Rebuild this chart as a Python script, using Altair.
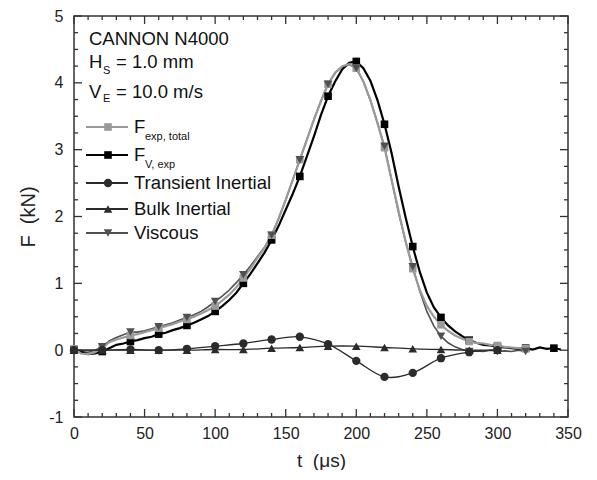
import altair as alt
import pandas as pd

# ---------------- data ----------------
t_fv = list(range(0, 350, 5))  # 0 .. 345 us
f_v_exp = [0.00, -0.03, -0.06, -0.05, -0.02, 0.03, 0.08, 0.10, 0.13, 0.15,
           0.18, 0.20, 0.24, 0.26, 0.30, 0.33, 0.37, 0.41, 0.46, 0.51,
           0.58, 0.66, 0.75, 0.86, 1.00, 1.14, 1.30, 1.46, 1.65, 1.86,
           2.10, 2.34, 2.60, 2.90, 3.20, 3.52, 3.80, 4.02, 4.20, 4.30,
           4.32, 4.22, 4.03, 3.74, 3.38, 2.95, 2.45, 1.98, 1.55, 1.17,
           0.86, 0.64, 0.49, 0.37, 0.28, 0.21, 0.15, 0.11, 0.08, 0.07,
           0.05, 0.04, 0.03, 0.02, 0.03, 0.01, 0.04, 0.02, 0.03, 0.01]

t_exp = list(range(0, 325, 5))  # 0 .. 320 us
f_exp_total = [0.02, -0.05, -0.06, -0.03, 0.04, 0.12, 0.16, 0.19, 0.22, 0.24,
               0.27, 0.30, 0.33, 0.36, 0.39, 0.43, 0.46, 0.50, 0.55, 0.60,
               0.66, 0.74, 0.83, 0.94, 1.08, 1.22, 1.38, 1.53, 1.72, 1.97,
               2.25, 2.55, 2.85, 3.15, 3.45, 3.73, 3.98, 4.15, 4.25, 4.28,
               4.22, 4.02, 3.74, 3.40, 3.03, 2.55, 2.08, 1.62, 1.22, 0.90,
               0.66, 0.50, 0.38, 0.29, 0.22, 0.17, 0.13, 0.11, 0.10, 0.08,
               0.07, 0.05, 0.04, 0.03, 0.02]

t_visc = list(range(0, 325, 5))  # 0 .. 320 us
viscous = [0.00, -0.02, -0.03, 0.00, 0.05, 0.14, 0.19, 0.23, 0.27, 0.27,
           0.29, 0.32, 0.35, 0.38, 0.41, 0.45, 0.49, 0.53, 0.58, 0.65,
           0.73, 0.81, 0.90, 1.01, 1.13, 1.26, 1.40, 1.54, 1.72, 1.97,
           2.25, 2.55, 2.85, 3.15, 3.45, 3.73, 3.98, 4.15, 4.24, 4.27,
           4.22, 4.02, 3.74, 3.40, 3.05, 2.55, 2.05, 1.62, 1.25, 0.88,
           0.58, 0.36, 0.21, 0.11, 0.05, 0.01, -0.02, -0.01, -0.02, 0.00,
           -0.02, -0.01, -0.02, 0.00, -0.02]

t_inert = list(range(0, 320, 20))  # 0 .. 300 us
transient = [0.0, 0.0, 0.01, 0.0, 0.02, 0.06, 0.10, 0.16, 0.20, 0.09,
             -0.16, -0.40, -0.34, -0.12, -0.03, 0.0]
bulk = [0.0, 0.0, 0.0, 0.0, 0.0, 0.01, 0.01, 0.03, 0.04, 0.06,
        0.06, 0.04, 0.02, 0.01, 0.0, 0.0]

x_major = [0, 50, 100, 150, 200, 250, 300, 350]
x_minor = [v for v in range(0, 351, 10) if v % 50 != 0]
y_major = [-1, 0, 1, 2, 3, 4, 5]
y_minor = [v / 4 for v in range(-4, 21) if v % 4 != 0]

header = "CANNON N4000"
legend_rows = [
    ("F", "exp, total", "#9a9a9a", "square"),
    ("F", "V, exp", "#000000", "square"),
    ("Transient Inertial", "", "#2b2b2b", "circle"),
    ("Bulk Inertial", "", "#2b2b2b", "triangle-up"),
    ("Viscous", "", "#505050", "triangle-down"),
]

# ---------------- layout / style ----------------
W, H = 494, 401
FONT = "Liberation Sans"
C_GRAY, C_BLACK, C_TRANS, C_BULK, C_VISC = "#9a9a9a", "#000000", "#2b2b2b", "#2b2b2b", "#505050"

xs = alt.Scale(domain=[0, 350], nice=False, zero=False)
ys = alt.Scale(domain=[-1, 5], nice=False, zero=False)
x_enc = alt.X("t:Q", scale=xs,
              axis=alt.Axis(values=x_major, ticks=False, domain=False, grid=False,
                            labelFontSize=16, labelPadding=8, labelFlush=False,
                            title="t\u00a0\u00a0(\u03bcs)", titleFontSize=19,
                            titleFontWeight="normal", titlePadding=10))
y_enc = alt.Y("F:Q", scale=ys,
              axis=alt.Axis(values=y_major, ticks=False, domain=False, grid=False,
                            labelFontSize=16, labelPadding=11, labelFlush=False,
                            labelExpr="'' + datum.value",
                            title="F\u00a0\u00a0(kN)", titleFontSize=20,
                            titleFontWeight="normal", titlePadding=10))

df_fv = pd.DataFrame({"t": t_fv, "F": f_v_exp})
df_exp = pd.DataFrame({"t": t_exp, "F": f_exp_total})
df_visc = pd.DataFrame({"t": t_visc, "F": viscous})
df_tr = pd.DataFrame({"t": t_inert, "F": transient})
df_bk = pd.DataFrame({"t": t_inert, "F": bulk})


def every20(df):
    return df[df["t"] % 20 == 0]


layers = []

# viscous
layers.append(alt.Chart(df_visc).mark_line(color=C_VISC, strokeWidth=1.6).encode(x=x_enc, y=y_enc))
# F_V,exp (black)
layers.append(alt.Chart(df_fv).mark_line(color=C_BLACK, strokeWidth=2.2).encode(x=x_enc, y=y_enc))
# F_exp,total (gray)
layers.append(alt.Chart(df_exp).mark_line(color=C_GRAY, strokeWidth=2.2).encode(x=x_enc, y=y_enc))
layers.append(alt.Chart(every20(df_fv)).mark_point(shape="square", filled=True, size=58, color=C_BLACK, opacity=1).encode(x=x_enc, y=y_enc))
layers.append(alt.Chart(every20(df_exp)).mark_point(shape="square", filled=True, size=58, color=C_GRAY, opacity=1).encode(x=x_enc, y=y_enc))
layers.append(alt.Chart(every20(df_visc)).mark_point(shape="triangle-down", filled=True, size=75, color=C_VISC, opacity=1).encode(x=x_enc, y=y_enc))
# bulk inertial
layers.append(alt.Chart(df_bk).mark_line(color=C_BULK, strokeWidth=1.3, interpolate="cardinal").encode(x=x_enc, y=y_enc))
layers.append(alt.Chart(df_bk).mark_point(shape="triangle-up", filled=True, size=75, color=C_BULK, opacity=1).encode(x=x_enc, y=y_enc))
# transient inertial
layers.append(alt.Chart(df_tr).mark_line(color=C_TRANS, strokeWidth=1.3, interpolate="cardinal").encode(x=x_enc, y=y_enc))
layers.append(alt.Chart(df_tr).mark_point(shape="circle", filled=True, size=70, color=C_TRANS, opacity=1).encode(x=x_enc, y=y_enc))

# inward ticks on all four sides
TK = "#333333"
for vals, ln in ((x_major, 8), (x_minor, 4)):
    d = pd.DataFrame({"t": vals})
    layers.append(alt.Chart(d).mark_rule(color=TK, strokeWidth=1.3).encode(x=x_enc, y=alt.value(H), y2=alt.value(H - ln)))
    layers.append(alt.Chart(d).mark_rule(color=TK, strokeWidth=1.3).encode(x=x_enc, y=alt.value(0), y2=alt.value(ln)))
for vals, ln in ((y_major, 8), (y_minor, 4)):
    d = pd.DataFrame({"F": vals})
    layers.append(alt.Chart(d).mark_rule(color=TK, strokeWidth=1.3).encode(y=y_enc, x=alt.value(0), x2=alt.value(ln)))
    layers.append(alt.Chart(d).mark_rule(color=TK, strokeWidth=1.3).encode(y=y_enc, x=alt.value(W), x2=alt.value(W - ln)))

dummy = pd.DataFrame({"a": [0]})


def txt(s, x, y, size=18.5, color="#111111"):
    return alt.Chart(dummy).mark_text(text=s, align="left", baseline="middle", font=FONT,
                                      fontSize=size, color=color).encode(x=alt.value(x), y=alt.value(y))


# header annotation
layers.append(txt(header, 15, 23))
layers.append(txt("H", 15, 46))
layers.append(txt("S", 29, 55, size=11))
layers.append(txt("= 1.0 mm", 42, 46))
layers.append(txt("V", 15, 76))
layers.append(txt("E", 29, 83, size=11))
layers.append(txt("= 10.0 m/s", 42, 76))

# manual legend
row_y = [111, 139, 167, 193, 217]
sizes = {"square": 58, "circle": 70, "triangle-up": 75, "triangle-down": 75}
for (label, sub, color, shape), yy in zip(legend_rows, row_y):
    layers.append(alt.Chart(dummy).mark_rule(color=color, strokeWidth=1.8).encode(
        x=alt.value(12), x2=alt.value(54), y=alt.value(yy)))
    layers.append(alt.Chart(dummy).mark_point(shape=shape, filled=True, size=sizes[shape], color=color, opacity=1).encode(
        x=alt.value(34), y=alt.value(yy)))
    layers.append(txt(label, 60, yy))
    if sub:
        layers.append(txt(sub, 71, yy + 10, size=11))

chart = alt.layer(*layers).properties(
    width=W, height=H,
    padding={"left": 10, "top": 0, "right": 0, "bottom": 0},
).configure_view(stroke="#333333", strokeWidth=1.5).configure_axis(
    labelFont=FONT, titleFont=FONT, labelColor="#222222", titleColor="#222222"
)

chart.save("out.html", embed_options={"renderer": "svg", "actions": False})
